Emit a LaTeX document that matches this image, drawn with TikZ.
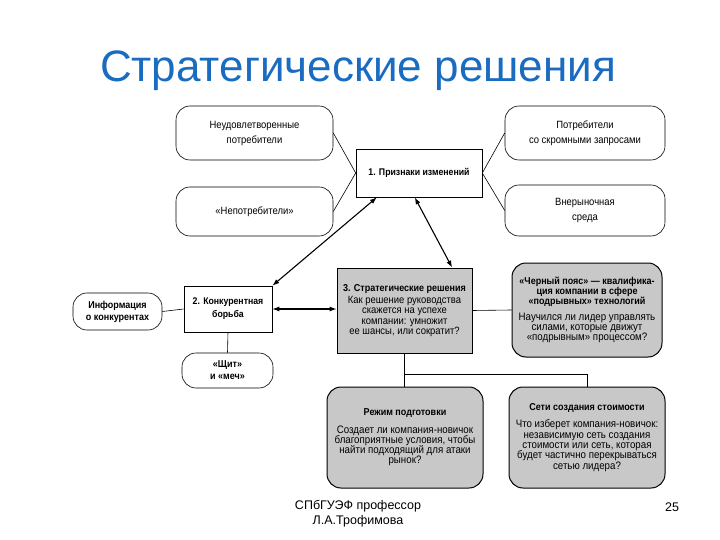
\documentclass[tikz,border=0pt]{standalone}
\usepackage{fontspec}
\setmainfont{Liberation Sans}
\newfontfamily\narrowfont[FakeStretch=0.9]{Liberation Sans}
\usetikzlibrary{arrows.meta}
\definecolor{titleblue}{RGB}{26,108,192}
\definecolor{boxgray}{RGB}{200,200,200}
\newcommand{\boxhead}[1]{{\bfseries\fontsize{10}{11}\selectfont #1}}

\begin{document}
\begin{tikzpicture}%
[x=1pt, y=-1pt,%
oval/.style={draw, line width=0.6pt, rounded corners=14pt, align=center, inner sep=2pt,%
  font=\narrowfont\fontsize{10.5}{15}\selectfont},%
smalloval/.style={oval, font=\narrowfont\bfseries\fontsize{10}{12}\selectfont},%
plain/.style={draw, line width=0.6pt, fill=white, align=center, inner sep=2pt,%
  font=\narrowfont\bfseries\fontsize{9.7}{13}\selectfont},%
grayoval/.style={draw, line width=1pt, fill=boxgray, rounded corners=14pt,%
  align=center, inner sep=1pt, font=\narrowfont\fontsize{10.8}{10.3}\selectfont},%
graybox/.style={draw, line width=0.8pt, fill=boxgray, align=center,%
  inner sep=1pt, font=\narrowfont\fontsize{10.5}{10.4}\selectfont},%
link/.style={line width=0.6pt},%
both/.style={line width=1.1pt, {Latex[length=7pt,width=5pt]}-{Latex[length=7pt,width=5pt]}}]

\useasboundingbox (0,0) rectangle (720,540);

\node[text=titleblue, font=\fontsize{44}{48}\selectfont] (title) at (358,71)
  {Стратегические решения};

\node[oval, minimum width=157pt, minimum height=54pt] (unsat) at (254.5,133)
  {Неудовлетворенные\\потребители};
\node[oval, minimum width=157pt, minimum height=49pt] (noncons) at (254.5,211.5)
  {«Непотребители»};
\node[plain, minimum width=126pt, minimum height=48pt] (signs) at (419,173)
  {1. Признаки изменений};
\node[oval, minimum width=160pt, minimum height=54pt] (modest) at (585,133)
  {Потребители\\со скромными запросами};
\node[oval, minimum width=160pt, minimum height=51pt] (outmarket) at (585,210.5)
  {Внерыночная\\среда};

\node[smalloval, minimum width=89pt, minimum height=37pt] (info) at (117.5,311.5)
  {Информация\\о конкурентах};
\node[plain, minimum width=88pt, minimum height=46pt] (compet) at (228,309)
  {2. Конкурентная\\борьба};
\node[smalloval, minimum width=91pt, minimum height=35pt] (shield) at (227.5,370.5)
  {«Щит»\\и «меч»};

\node[graybox, minimum width=135pt, minimum height=85pt] (decis) at (404.5,310.5)
  {\boxhead{3. Стратегические решения}\\[2pt]Как решение руководства\\скажется на успехе\\компании: умножит\\ее шансы, или сократит?};
\node[grayoval, minimum width=150pt, minimum height=94pt] (belt) at (587,310)
  {\boxhead{«Черный пояс» — квалифика-}\\\boxhead{ция компании в сфере}\\\boxhead{«подрывных» технологий}\\[5pt]Научился ли лидер управлять\\силами, которые движут\\«подрывным» процессом?};
\node[grayoval, minimum width=156pt, minimum height=101pt] (prep) at (405,437.5)
  {\boxhead{Режим подготовки}\\[7pt]Создает ли компания-новичок\\благоприятные условия, чтобы\\найти подходящий для атаки\\рынок?};
\node[grayoval, minimum width=156pt, minimum height=101pt] (netw) at (587,437.5)
  {\boxhead{Сети создания стоимости}\\[7pt]Что изберет компания-новичок:\\независимую сеть создания\\стоимости или сеть, которая\\будет частично перекрываться\\сетью лидера?};

\draw[link] (unsat.east) -- (signs.west);
\draw[link] (noncons.east) -- (signs.west);
\draw[link] (modest.west) -- (signs.east);
\draw[link] (outmarket.west) -- (signs.east);
\draw[link] (info.east) -- (compet.west);
\draw[link] (compet.south) -- (shield.north);
\draw[link] (decis.east) -- (belt.west);
\draw[link] (decis.south) -- (decis.south |- prep.north);
\draw[link] (decis.south) ++(0,21) -| (netw.north);

\draw[both] (compet.north east) -- (signs.-150);
\draw[both] (signs.-100) -- (decis.42);
\draw[both] (compet.east) -- (decis.west |- compet.east);

\node[font=\fontsize{12.5}{15}\selectfont, align=center] (footer) at (358,514)
  {СПбГУЭФ профессор\\Л.А.Трофимова};
\node[font=\fontsize{12.5}{15}\selectfont] (page) at (672,507) {25};
\end{tikzpicture}
\end{document}
